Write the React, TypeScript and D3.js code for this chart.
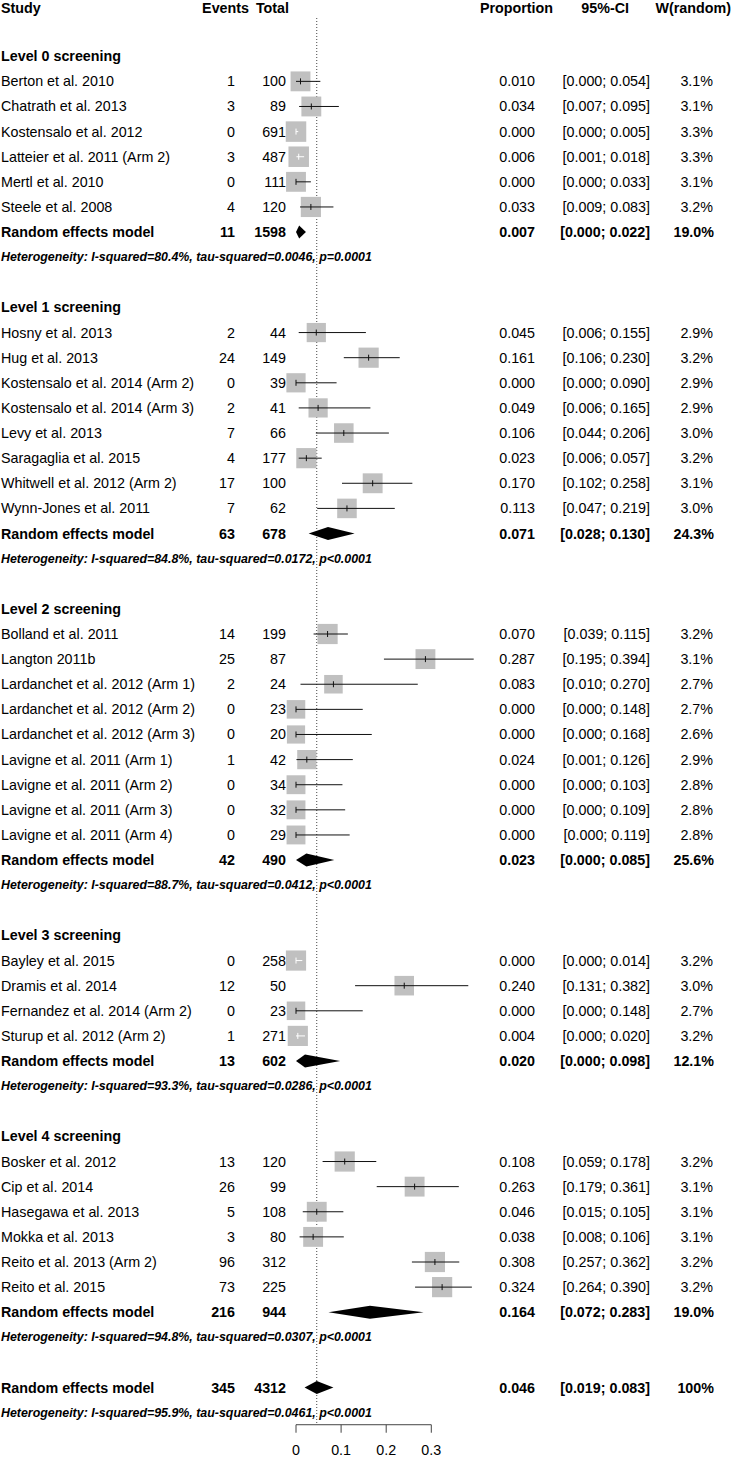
import * as d3 from "d3";

// study rows per subgroup: label, events, total, proportion, lower, upper, weight (%)
const groupNames = ["Level 0 screening", "Level 1 screening", "Level 2 screening", "Level 3 screening", "Level 4 screening"];

const level0 = [
  ["Berton et al. 2010", 1, 100, 0.010, 0.000, 0.054, 3.1],
  ["Chatrath et al. 2013", 3, 89, 0.034, 0.007, 0.095, 3.1],
  ["Kostensalo et al. 2012", 0, 691, 0.000, 0.000, 0.005, 3.3],
  ["Latteier et al. 2011 (Arm 2)", 3, 487, 0.006, 0.001, 0.018, 3.3],
  ["Mertl et al. 2010", 0, 111, 0.000, 0.000, 0.033, 3.1],
  ["Steele et al. 2008", 4, 120, 0.033, 0.009, 0.083, 3.2],
];
const level1 = [
  ["Hosny et al. 2013", 2, 44, 0.045, 0.006, 0.155, 2.9],
  ["Hug et al. 2013", 24, 149, 0.161, 0.106, 0.230, 3.2],
  ["Kostensalo et al. 2014 (Arm 2)", 0, 39, 0.000, 0.000, 0.090, 2.9],
  ["Kostensalo et al. 2014 (Arm 3)", 2, 41, 0.049, 0.006, 0.165, 2.9],
  ["Levy et al. 2013", 7, 66, 0.106, 0.044, 0.206, 3.0],
  ["Saragaglia et al. 2015", 4, 177, 0.023, 0.006, 0.057, 3.2],
  ["Whitwell et al. 2012 (Arm 2)", 17, 100, 0.170, 0.102, 0.258, 3.1],
  ["Wynn-Jones et al. 2011", 7, 62, 0.113, 0.047, 0.219, 3.0],
];
const level2 = [
  ["Bolland et al. 2011", 14, 199, 0.070, 0.039, 0.115, 3.2],
  ["Langton 2011b", 25, 87, 0.287, 0.195, 0.394, 3.1],
  ["Lardanchet et al. 2012 (Arm 1)", 2, 24, 0.083, 0.010, 0.270, 2.7],
  ["Lardanchet et al. 2012 (Arm 2)", 0, 23, 0.000, 0.000, 0.148, 2.7],
  ["Lardanchet et al. 2012 (Arm 3)", 0, 20, 0.000, 0.000, 0.168, 2.6],
  ["Lavigne et al. 2011 (Arm 1)", 1, 42, 0.024, 0.001, 0.126, 2.9],
  ["Lavigne et al. 2011 (Arm 2)", 0, 34, 0.000, 0.000, 0.103, 2.8],
  ["Lavigne et al. 2011 (Arm 3)", 0, 32, 0.000, 0.000, 0.109, 2.8],
  ["Lavigne et al. 2011 (Arm 4)", 0, 29, 0.000, 0.000, 0.119, 2.8],
];
const level3 = [
  ["Bayley et al. 2015", 0, 258, 0.000, 0.000, 0.014, 3.2],
  ["Dramis et al. 2014", 12, 50, 0.240, 0.131, 0.382, 3.0],
  ["Fernandez et al. 2014 (Arm 2)", 0, 23, 0.000, 0.000, 0.148, 2.7],
  ["Sturup et al. 2012 (Arm 2)", 1, 271, 0.004, 0.000, 0.020, 3.2],
];
const level4 = [
  ["Bosker et al. 2012", 13, 120, 0.108, 0.059, 0.178, 3.2],
  ["Cip et al. 2014", 26, 99, 0.263, 0.179, 0.361, 3.1],
  ["Hasegawa et al. 2013", 5, 108, 0.046, 0.015, 0.105, 3.1],
  ["Mokka et al. 2013", 3, 80, 0.038, 0.008, 0.106, 3.1],
  ["Reito et al. 2013 (Arm 2)", 96, 312, 0.308, 0.257, 0.362, 3.2],
  ["Reito et al. 2015", 73, 225, 0.324, 0.264, 0.390, 3.2],
];
const studies = [level0, level1, level2, level3, level4];

// pooled (random effects) per subgroup: events, total, proportion, lower, upper, weight
const pooled = [
  [11, 1598, 0.007, 0.000, 0.022, "19.0%"],
  [63, 678, 0.071, 0.028, 0.130, "24.3%"],
  [42, 490, 0.023, 0.000, 0.085, "25.6%"],
  [13, 602, 0.020, 0.000, 0.098, "12.1%"],
  [216, 944, 0.164, 0.072, 0.283, "19.0%"],
];
const heterogeneity = [
  "Heterogeneity: I-squared=80.4%, tau-squared=0.0046, p=0.0001",
  "Heterogeneity: I-squared=84.8%, tau-squared=0.0172, p<0.0001",
  "Heterogeneity: I-squared=88.7%, tau-squared=0.0412, p<0.0001",
  "Heterogeneity: I-squared=93.3%, tau-squared=0.0286, p<0.0001",
  "Heterogeneity: I-squared=94.8%, tau-squared=0.0307, p<0.0001",
];
const overall = [345, 4312, 0.046, 0.019, 0.083, "100%"];
const overallHet = "Heterogeneity: I-squared=95.9%, tau-squared=0.0461, p<0.0001";
const xTicks = [0, 0.1, 0.2, 0.3];

const width = 733;
const height = 1457;
const FONT = "'Liberation Sans', Arial, sans-serif";
const FS = 14.3;

export default function App() {
  // build the row list
  const rows: any[] = [{ type: "header" }, { type: "blank" }];
  studies.forEach((g, gi) => {
    rows.push({ type: "group", label: groupNames[gi] });
    g.forEach((s) => rows.push({ type: "study", s }));
    rows.push({ type: "pooled", s: pooled[gi] });
    rows.push({ type: "het", label: heterogeneity[gi] });
    rows.push({ type: "blank" });
  });
  rows.push({ type: "pooled", s: overall });
  rows.push({ type: "het", label: overallHet });

  const x = d3.scaleLinear().domain([0, 0.3]).range([296, 431.3]);
  const y = d3.scaleLinear().domain([0, 1]).range([6, 31.12]);
  const box = d3.scaleSqrt().domain([0, 3.3]).range([0, 20.5]);
  const f3 = d3.format(".3f");
  const axisY = y(rows.length - 1) + 12;

  const textProps = { fontFamily: FONT, fontSize: FS, dominantBaseline: "central" } as any;

  return (
    <svg width={width} height={height} style={{ position: "absolute", left: 0, top: 0, background: "#fff" }}>
      <line x1={x(overall[2] as number)} x2={x(overall[2] as number)} y1={18} y2={axisY}
        stroke="#444" strokeDasharray="1,2" strokeWidth={1} />
      {rows.map((r, i) => {
        const cy = y(i);
        if (r.type === "header") {
          return (
            <g key={i} {...textProps} fontWeight="bold">
              <text x={1} y={cy + 2}>Study</text>
              <text x={249} y={cy + 2} textAnchor="end">Events</text>
              <text x={289} y={cy + 2} textAnchor="end">Total</text>
              <text x={553} y={cy + 2} textAnchor="end">Proportion</text>
              <text x={629} y={cy + 2} textAnchor="end">95%-CI</text>
              <text x={731} y={cy + 2} textAnchor="end">W(random)</text>
            </g>
          );
        }
        if (r.type === "group") {
          return <text key={i} x={1} y={cy} {...textProps} fontWeight="bold">{r.label}</text>;
        }
        if (r.type === "het") {
          return (
            <text key={i} x={1} y={cy} fontFamily={FONT} fontSize={12.4} fontWeight="bold"
              fontStyle="italic" dominantBaseline="central">{r.label}</text>
          );
        }
        if (r.type === "study") {
          const [label, ev, tot, p, lo, hi, w] = r.s;
          const sz = box(w);
          const inside = x(lo) >= x(p) - sz / 2 && x(hi) <= x(p) + sz / 2;
          const col = inside ? "#fff" : "#111";
          return (
            <g key={i}>
              <text x={1} y={cy} {...textProps}>{label}</text>
              <text x={235} y={cy} {...textProps} textAnchor="end">{ev}</text>
              <text x={286} y={cy} {...textProps} textAnchor="end">{tot}</text>
              <rect x={x(p) - sz / 2} y={cy - sz / 2} width={sz} height={sz} fill="#c0c0c0" />
              <line x1={x(lo)} x2={x(hi)} y1={cy} y2={cy} stroke={col} strokeWidth={1} />
              <line x1={x(p)} x2={x(p)} y1={cy - 3} y2={cy + 3} stroke={col} strokeWidth={1} />
              <text x={535} y={cy} {...textProps} textAnchor="end">{f3(p)}</text>
              <text x={650} y={cy} {...textProps} textAnchor="end">{`[${f3(lo)}; ${f3(hi)}]`}</text>
              <text x={713} y={cy} {...textProps} textAnchor="end">{`${w.toFixed(1)}%`}</text>
            </g>
          );
        }
        if (r.type === "pooled") {
          const [ev, tot, p, lo, hi, w] = r.s;
          const h = 6.5;
          const pts = [[x(lo), cy], [x(p), cy - h], [x(hi), cy], [x(p), cy + h]];
          return (
            <g key={i} {...textProps} fontWeight="bold">
              <text x={1} y={cy}>Random effects model</text>
              <text x={235} y={cy} textAnchor="end">{ev}</text>
              <text x={286} y={cy} textAnchor="end">{tot}</text>
              <path d={d3.line()(pts as any) + "Z"} fill="#000" />
              <text x={535} y={cy} textAnchor="end">{f3(p)}</text>
              <text x={650} y={cy} textAnchor="end">{`[${f3(lo)}; ${f3(hi)}]`}</text>
              <text x={714} y={cy} textAnchor="end">{w}</text>
            </g>
          );
        }
        return null;
      })}
      <g>
        <line x1={x(0)} x2={x(0.3)} y1={axisY} y2={axisY} stroke="#444" />
        {xTicks.map((t) => (
          <g key={t}>
            <line x1={x(t)} x2={x(t)} y1={axisY} y2={axisY + 8} stroke="#444" />
            <text x={x(t)} y={axisY + 25} textAnchor="middle" {...textProps}>{String(t)}</text>
          </g>
        ))}
      </g>
    </svg>
  );
}
